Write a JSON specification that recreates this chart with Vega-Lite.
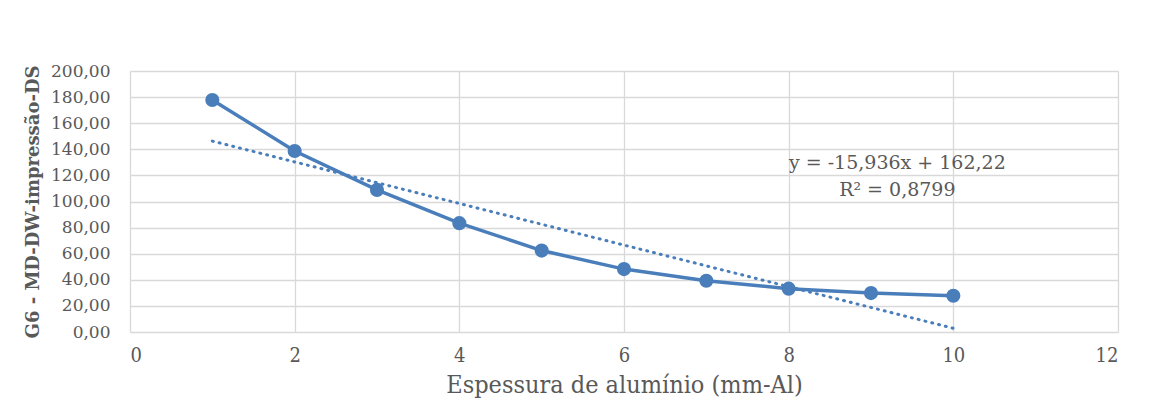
{
  "$schema": "https://vega.github.io/schema/vega-lite/v6.json",
  "autosize": "none",
  "width": 988,
  "height": 261,
  "padding": {"left": 130, "top": 71, "right": 42, "bottom": 73},
  "background": "white",
  "config": {
    "view": {"stroke": null},
    "axis": {
      "labelFont": "DejaVu Serif",
      "titleFont": "DejaVu Serif",
      "labelColor": "#595959",
      "titleColor": "#595959",
      "gridColor": "#d9d9d9",
      "gridWidth": 1.3,
      "domain": false,
      "ticks": false
    }
  },
  "datasets": {
    "series": [
      {"x": 1, "y": 177.8},
      {"x": 2, "y": 138.7},
      {"x": 3, "y": 108.9},
      {"x": 4, "y": 83.4},
      {"x": 5, "y": 62.4},
      {"x": 6, "y": 48.2},
      {"x": 7, "y": 39.3},
      {"x": 8, "y": 33.2},
      {"x": 9, "y": 29.8},
      {"x": 10, "y": 27.8}
    ],
    "trend": [
      {"x": 1, "y": 146.28},
      {"x": 10, "y": 2.86}
    ],
    "labels": [
      {"x": 9.32, "y": 129.5, "text": "y = -15,936x + 162,22"},
      {"x": 9.32, "y": 108.9, "text": "R² = 0,8799"}
    ]
  },
  "encoding": {
    "x": {
      "field": "x",
      "type": "quantitative",
      "scale": {"domain": [0, 12], "nice": false},
      "axis": {
        "values": [0, 2, 4, 6, 8, 10, 12],
        "title": "Espessura de alumínio (mm-Al)",
        "titleFont": "DejaVu Serif Condensed",
        "titleFontSize": 25,
        "titleFontWeight": "normal",
        "titlePadding": 7,
        "labelFont": "DejaVu Serif Condensed",
        "labelFontSize": 20,
        "labelPadding": 13
      }
    },
    "y": {
      "field": "y",
      "type": "quantitative",
      "scale": {"domain": [0, 200], "nice": false},
      "axis": {
        "values": [0, 20, 40, 60, 80, 100, 120, 140, 160, 180, 200],
        "labelExpr": "replace(format(datum.value, '.2f'), '.', ',')",
        "title": "G6 - MD-DW-impressão-DS",
        "titleFontSize": 18,
        "titleFontWeight": "bold",
        "titlePadding": 8,
        "labelFontSize": 17,
        "labelPadding": 20
      }
    }
  },
  "layer": [
    {
      "data": {"name": "trend"},
      "mark": {"type": "line", "color": "#4a7ebb", "strokeWidth": 3, "strokeDash": [1, 6], "strokeCap": "round"}
    },
    {
      "data": {"name": "series"},
      "mark": {"type": "line", "color": "#4a7ebb", "strokeWidth": 3.5}
    },
    {
      "data": {"name": "series"},
      "mark": {"type": "point", "filled": true, "opacity": 1, "color": "#4a7ebb", "size": 200, "shape": "circle"}
    },
    {
      "data": {"name": "labels"},
      "mark": {"type": "text", "font": "DejaVu Serif", "fontSize": 19, "color": "#595959", "align": "center", "baseline": "middle"},
      "encoding": {"text": {"field": "text"}}
    }
  ]
}
